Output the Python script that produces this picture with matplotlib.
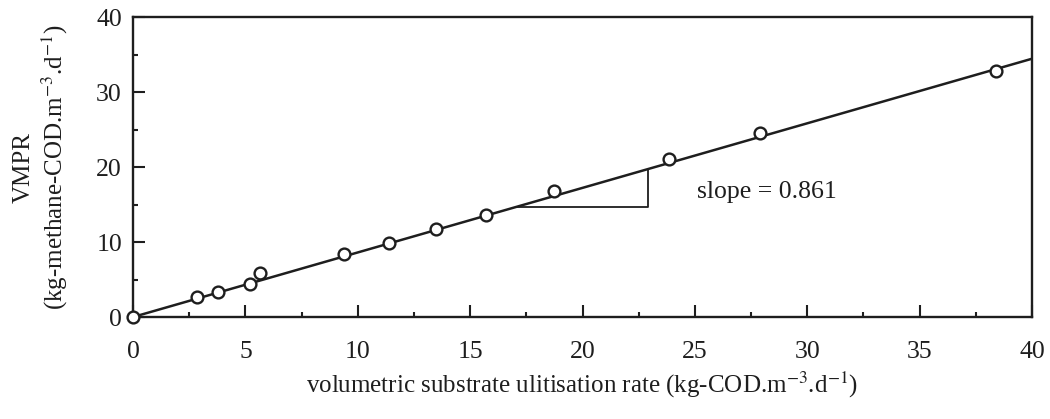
import matplotlib
matplotlib.use("Agg")
import matplotlib.pyplot as plt
from matplotlib.ticker import MultipleLocator

plt.rcParams['font.family'] = ['Liberation Serif', 'DejaVu Serif']
plt.rcParams['mathtext.fontset'] = 'stix'

# data
usage_rate = [0.0, 2.85, 3.8, 5.2, 5.65, 9.4, 11.4, 13.5, 15.7, 18.75, 23.85, 27.9, 38.4]
vmpr = [0.0, 2.7, 3.4, 4.4, 5.9, 8.4, 9.9, 11.7, 13.6, 16.8, 21.1, 24.5, 32.8]
slope = 0.861
fit_x = [0, 40]
tri_x = [17.1, 22.9]
x_ticks = [0, 5, 10, 15, 20, 25, 30, 35, 40]
y_ticks = [0, 10, 20, 30, 40]

ink = '#1e1e1e'
fig = plt.figure(figsize=(10.5, 4.19), dpi=100)
ax = fig.add_axes([0.1267, 0.2434, 0.9829 - 0.1267, 0.9594 - 0.2434])

ax.plot(fit_x, [slope * v for v in fit_x], color=ink, lw=1.8, zorder=2)
# slope triangle
ax.plot([tri_x[0], tri_x[1], tri_x[1]],
        [slope * tri_x[0], slope * tri_x[0], slope * tri_x[1]],
        color=ink, lw=1.3, zorder=2)
ax.plot(usage_rate, vmpr, 'o', ms=8.5, mfc='white', mec=ink, mew=1.7, zorder=3,
        clip_on=False)
ax.text(25.1, 16.7, 'slope = 0.861', fontsize=18.5, va='center', ha='left', color=ink)

ax.set_xlim(0, 40)
ax.set_ylim(0, 40)
ax.set_xticks(x_ticks)
ax.set_yticks(y_ticks)
ax.xaxis.set_minor_locator(MultipleLocator(2.5))
ax.yaxis.set_minor_locator(MultipleLocator(5))
ax.tick_params(axis='both', which='major', direction='in', length=8.5, width=1.5,
               colors=ink, labelsize=18.5)
ax.tick_params(axis='both', which='minor', direction='in', length=3.8, width=1.5,
               colors=ink)
ax.tick_params(axis='x', which='major', pad=17)
ax.tick_params(axis='y', which='major', pad=8)
for s in ax.spines.values():
    s.set_linewidth(1.7)
    s.set_color(ink)

ax.set_xlabel('volumetric substrate ulitisation rate (kg-COD.m$^{-3}$.d$^{-1}$)',
              fontsize=18, labelpad=5, color=ink)
ax.set_ylabel('VMPR\n(kg-methane-COD.m$^{-3}$.d$^{-1}$)', fontsize=18,
              labelpad=19, color=ink, linespacing=1.2)

fig.savefig('out.png', dpi=100, facecolor='white')
